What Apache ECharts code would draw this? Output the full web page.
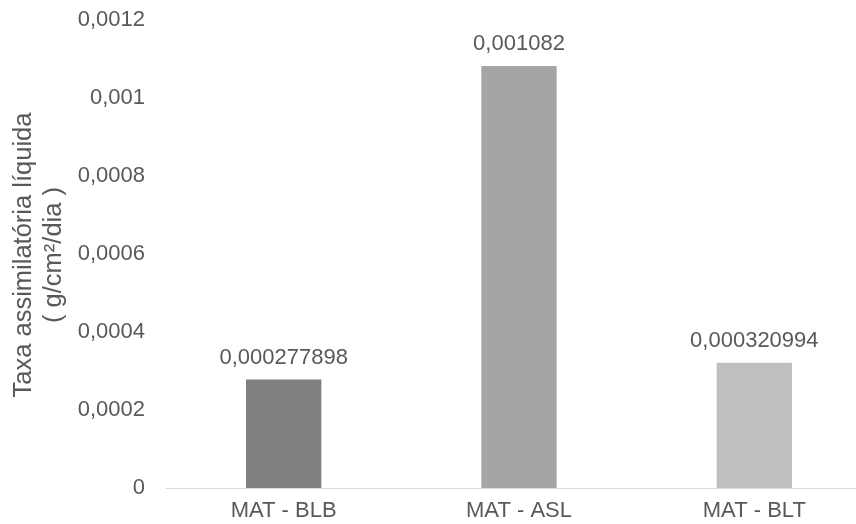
<!DOCTYPE html>
<html>
<head>
<meta charset="utf-8">
<script src="https://cdn.jsdelivr.net/npm/echarts@6/dist/echarts.min.js"></script>
<style>
  html, body { margin: 0; padding: 0; background: #ffffff; overflow: hidden; }
  /* the plot area runs a little past the right edge of the window */
  #chart { width: 872px; height: 524px; }
</style>
</head>
<body>
<div id="chart"></div>
<script>
// Net assimilation rate per treatment
const categories = ['MAT - BLB', 'MAT - ASL', 'MAT - BLT'];
const values = [0.000277898, 0.001082, 0.000320994];
const barColors = ['#7f7f7f', '#a5a5a5', '#bfbfbf'];
const titleLines = ['Taxa assimilatória líquida', '( g/cm²/dia )'];

const textColor = '#595959';
const fontFamily = '"Liberation Sans", Arial, sans-serif';

// decimal comma formatting
function fmt(v) {
  return String(parseFloat(Number(v).toPrecision(9))).replace('.', ',');
}

const chart = echarts.init(document.getElementById('chart'), null, { renderer: 'canvas' });

chart.setOption({
  animation: false,
  backgroundColor: '#ffffff',
  grid: { left: 166, right: 0, top: 20, bottom: 36, containLabel: false },
  xAxis: {
    type: 'category',
    data: categories,
    axisLine: { show: true, lineStyle: { color: '#d9d9d9', width: 1 } },
    axisTick: { show: false },
    axisLabel: { color: textColor, fontSize: 22, fontFamily: fontFamily, margin: 12 }
  },
  yAxis: {
    type: 'value',
    min: 0,
    max: 0.0012,
    interval: 0.0002,
    splitLine: { show: false },
    axisLine: { show: false },
    axisTick: { show: false },
    axisLabel: {
      color: textColor, fontSize: 22, fontFamily: fontFamily, margin: 21,
      formatter: fmt
    }
  },
  series: [{
    type: 'bar',
    barWidth: '32%',
    data: values.map((v, i) => ({ value: v, itemStyle: { color: barColors[i] } })),
    label: {
      show: true,
      position: 'top',
      distance: 11,
      color: textColor,
      fontSize: 22,
      fontFamily: fontFamily,
      formatter: p => fmt(p.value)
    }
  }],
  graphic: [
    {
      type: 'text',
      x: 24, y: 255,
      rotation: Math.PI / 2,
      style: {
        text: titleLines[0], fill: textColor, fontSize: 25.5, fontFamily: fontFamily,
        align: 'center', verticalAlign: 'middle'
      }
    },
    {
      type: 'text',
      x: 54, y: 255,
      rotation: Math.PI / 2,
      style: {
        text: titleLines[1], fill: textColor, fontSize: 25.5, fontFamily: fontFamily,
        align: 'center', verticalAlign: 'middle'
      }
    }
  ]
});
</script>
</body>
</html>
